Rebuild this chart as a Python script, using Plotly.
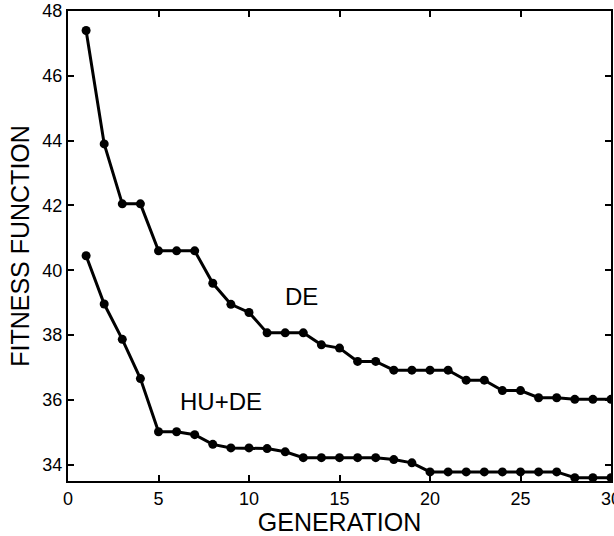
import plotly.graph_objects as go

generation = list(range(1, 31))
de = [47.4, 43.9, 42.05, 42.05, 40.6, 40.6, 40.6, 39.6, 38.95, 38.7,
      38.07, 38.07, 38.07, 37.7, 37.6, 37.19, 37.19, 36.92, 36.92, 36.92,
      36.92, 36.61, 36.61, 36.29, 36.29, 36.07, 36.07, 36.02, 36.02, 36.02]
hu_de = [40.45, 38.96, 37.87, 36.66, 35.02, 35.02, 34.93, 34.63, 34.52, 34.52,
         34.50, 34.40, 34.22, 34.22, 34.22, 34.22, 34.22, 34.16, 34.06, 33.78,
         33.78, 33.78, 33.78, 33.78, 33.78, 33.78, 33.78, 33.6, 33.6, 33.6]
x_ticks = [0, 5, 10, 15, 20, 25, 30]
y_ticks = [34, 36, 38, 40, 42, 44, 46, 48]
series_labels = [("DE", 12.9, 39.2), ("HU+DE", 8.47, 35.96)]

font_family = "Liberation Sans, Arial, sans-serif"

fig = go.Figure()
for ys in (de, hu_de):
    fig.add_trace(go.Scatter(
        x=generation, y=ys, mode="lines+markers",
        line=dict(color="black", width=3),
        marker=dict(color="black", size=9),
        showlegend=False,
    ))

for text, xv, yv in series_labels:
    fig.add_annotation(x=xv, y=yv, text=text, showarrow=False,
                       font=dict(family=font_family, size=24, color="black"))

axis_common = dict(
    showgrid=False, zeroline=False, showline=True, linecolor="black",
    linewidth=2, mirror="ticks", ticks="inside", ticklen=6, tickwidth=1.5,
    tickcolor="black", automargin=False, ticklabeloverflow="allow",
    tickfont=dict(family=font_family, size=18, color="black"),
)

fig.update_layout(
    width=614, height=536,
    margin=dict(l=68, r=3, t=11, b=55),
    paper_bgcolor="white", plot_bgcolor="white",
    xaxis=dict(range=[0, 30], tickvals=x_ticks,
               title=dict(text="GENERATION", standoff=0,
                          font=dict(family=font_family, size=25, color="black")),
               **axis_common),
    yaxis=dict(range=[33.5, 48], tickvals=y_ticks,
               title=dict(text="FITNESS FUNCTION", standoff=6,
                          font=dict(family=font_family, size=25, color="black")),
               **axis_common),
)

# remove the browser's default 8px body margin so the figure fills the window
fig.write_html("out.html", config={"displayModeBar": False},
               post_script="document.body.style.margin='0';")
